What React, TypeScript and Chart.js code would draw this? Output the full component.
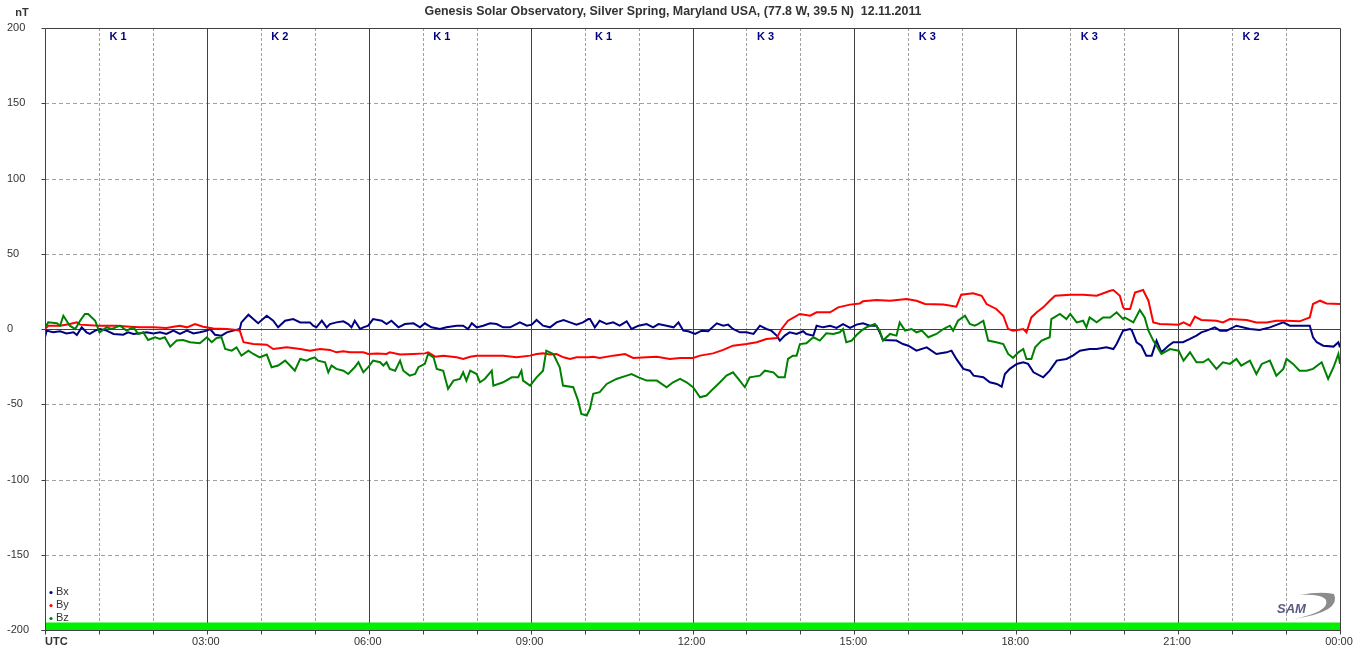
import React, { useEffect, useRef } from "react";
import { Chart, registerables } from "chart.js";

Chart.register(...registerables);

const TITLE = "Genesis Solar Observatory, Silver Spring, Maryland USA, (77.8 W, 39.5 N)  12.11.2011";
const kLabels = ["K 1", "K 2", "K 1", "K 1", "K 3", "K 3", "K 3", "K 2"];
const yTickValues = [200, 150, 100, 50, 0, -50, -100, -150, -200];
const xTickHours = [3, 6, 9, 12, 15, 18, 21, 24];
const xTickLabels = ["03:00", "06:00", "09:00", "12:00", "15:00", "18:00", "21:00", "00:00"];
const legendNames = ["Bx", "By", "Bz"];
const seriesColors = ["#000080", "#ff0000", "#008000"];

// times in hours UTC, values in nT
const bxTimes = [0, 0.03, 0.15, 0.28, 0.4, 0.53, 0.59, 0.68, 0.77, 0.83, 0.93, 1.02, 1.14, 1.27, 1.45, 1.54, 1.64, 1.76, 1.88, 2.01, 2.13, 2.25, 2.38, 2.5, 2.63, 2.75, 2.87, 3.0, 3.06, 3.15, 3.27, 3.37, 3.49, 3.61, 3.64, 3.77, 3.86, 3.95, 4.11, 4.23, 4.32, 4.45, 4.6, 4.73, 4.85, 4.91, 4.97, 5.03, 5.13, 5.22, 5.28, 5.4, 5.53, 5.62, 5.68, 5.74, 5.84, 5.9, 5.99, 6.08, 6.24, 6.33, 6.42, 6.55, 6.67, 6.83, 6.95, 7.04, 7.16, 7.32, 7.44, 7.63, 7.75, 7.84, 7.91, 8.0, 8.12, 8.25, 8.37, 8.49, 8.62, 8.8, 8.93, 9.02, 9.11, 9.23, 9.36, 9.48, 9.61, 9.73, 9.85, 9.97, 10.07, 10.1, 10.19, 10.28, 10.41, 10.53, 10.65, 10.78, 10.87, 11.0, 11.15, 11.27, 11.37, 11.52, 11.65, 11.74, 11.83, 11.92, 12.05, 12.17, 12.29, 12.45, 12.57, 12.66, 12.75, 12.88, 13.0, 13.13, 13.25, 13.37, 13.46, 13.56, 13.62, 13.71, 13.8, 13.93, 14.05, 14.11, 14.24, 14.3, 14.42, 14.55, 14.67, 14.79, 14.92, 15.04, 15.16, 15.29, 15.41, 15.47, 15.53, 15.78, 15.9, 16.0, 16.15, 16.34, 16.52, 16.71, 16.8, 16.89, 17.02, 17.14, 17.21, 17.39, 17.51, 17.64, 17.73, 17.79, 17.88, 18.01, 18.13, 18.22, 18.32, 18.5, 18.62, 18.75, 18.93, 19.05, 19.18, 19.36, 19.49, 19.67, 19.8, 19.86, 19.98, 20.11, 20.14, 20.23, 20.32, 20.41, 20.51, 20.6, 20.69, 20.82, 20.91, 21.09, 21.22, 21.34, 21.43, 21.53, 21.68, 21.78, 21.9, 22.08, 22.33, 22.51, 22.7, 22.95, 23.07, 23.26, 23.44, 23.5, 23.57, 23.69, 23.88, 23.97, 24.0];
const bxValues = [-5.5, -1.1, -2.2, -1.5, -2.9, -2.2, -4.0, 1.1, -2.2, -3.3, -1.1, 0, -1.1, -3.3, -3.8, -2.2, -3.3, -2.9, -2.2, -2.9, -2.2, -3.3, -1.1, -3.3, -1.1, -2.9, -2.2, -1.1, 0, -3.8, -4.4, -2.2, -1.1, 0, 4.4, 9.5, 6.6, 3.8, 8.8, 5.5, 1.1, 5.5, 6.6, 4.4, 4.4, 4.4, 2.2, 1.1, 5.5, 1.1, 3.3, 4.4, 5.1, 3.3, 1.1, 5.5, 0, 1.1, 2.2, 6.6, 5.5, 3.3, 5.5, 1.1, 3.3, 3.8, 1.1, 3.8, 1.1, 0, 1.1, 2.2, 2.2, 0, 3.8, 1.1, 2.2, 3.8, 3.3, 1.1, 1.1, 4.4, 2.2, 2.9, 6.0, 2.2, 1.1, 4.4, 6.0, 4.4, 2.9, 4.4, 6.6, 6.6, 1.1, 5.5, 3.3, 4.4, 2.2, 5.1, 0, 2.2, 3.3, 1.1, 3.3, 2.2, 1.1, 4.4, -1.1, -1.5, -3.3, -1.1, -1.5, 3.8, 2.2, 2.9, 0, -2.2, -2.2, -3.3, 2.2, 0, -1.1, -4.4, -7.7, -4.4, -2.2, -3.3, -1.5, -3.3, -4.4, 2.2, 1.1, 2.2, 0.7, 3.3, 0.7, 2.9, 3.8, 2.2, 2.2, -2.2, -7.3, -7.7, -10, -11.1, -14.4, -12.2, -16.6, -15.5, -14.4, -19.9, -26.5, -27.7, -31, -32, -35.4, -36.5, -38.3, -29.9, -26.5, -23.2, -22.1, -23.2, -28.8, -32.1, -27.7, -21, -19.9, -17.7, -14.4, -13.3, -13.3, -12.2, -13.3, -10, -1.1, 0, -0.7, -8.8, -11.1, -17.7, -17.7, -7.7, -15.5, -11.1, -8.8, -8.8, -6.6, -4.4, -2.2, -1.1, 1.1, -1.1, -1.1, 2.2, 0, -0.7, 1.1, 4.4, 2.2, 2.2, 2.2, -5.5, -8.8, -11.1, -11.7, -8.8, -12.2];

const byTimes = [0, 0.06, 0.28, 0.46, 0.59, 0.65, 0.99, 1.33, 1.58, 1.76, 2.01, 2.25, 2.38, 2.5, 2.63, 2.78, 2.93, 3.12, 3.37, 3.55, 3.61, 3.68, 3.86, 4.11, 4.23, 4.48, 4.73, 4.91, 5.1, 5.28, 5.4, 5.53, 5.65, 5.9, 5.99, 6.15, 6.33, 6.39, 6.58, 6.83, 7.04, 7.1, 7.23, 7.38, 7.63, 7.75, 7.88, 8.0, 8.49, 8.74, 8.99, 9.11, 9.23, 9.36, 9.48, 9.61, 9.73, 9.85, 10.07, 10.16, 10.28, 10.53, 10.75, 10.9, 11.15, 11.34, 11.58, 11.77, 12.01, 12.14, 12.38, 12.57, 12.75, 13.0, 13.19, 13.37, 13.56, 13.65, 13.77, 13.99, 14.18, 14.3, 14.55, 14.7, 14.92, 15.1, 15.16, 15.41, 15.66, 15.97, 16.15, 16.31, 16.65, 16.89, 16.98, 17.2, 17.36, 17.45, 17.63, 17.76, 17.85, 17.94, 18.13, 18.19, 18.28, 18.38, 18.5, 18.62, 18.72, 19.0, 19.24, 19.49, 19.74, 19.8, 19.92, 19.98, 20.01, 20.11, 20.2, 20.35, 20.45, 20.54, 20.66, 21.01, 21.1, 21.22, 21.31, 21.43, 21.71, 21.83, 21.96, 22.27, 22.45, 22.64, 22.82, 23.01, 23.25, 23.44, 23.5, 23.63, 23.75, 24.0];
const byValues = [0, 2.2, 2.2, 3.3, 4.4, 2.9, 2.2, 2.2, 1.5, 1.1, 1.1, 0.7, 1.5, 2.2, 1.1, 3.3, 1.5, 0.4, 0, -0.7, -1.1, -8.8, -10, -10.4, -13.3, -12.2, -13.3, -14.4, -13.3, -13.9, -15.5, -14.8, -15.5, -15.5, -16.6, -16.2, -16.6, -15.5, -17, -16.6, -16.2, -15.5, -18.4, -17.7, -18.8, -19.9, -18.4, -17.7, -17.7, -18.8, -17.7, -16.6, -16.2, -17, -16.6, -18.8, -19.9, -18.8, -18.8, -18.4, -19.2, -17.7, -16.6, -19.2, -18.8, -18.4, -19.9, -19.2, -19.2, -17.7, -16.2, -13.9, -11.1, -10, -8.8, -6.6, -6, 0, 5.5, 10, 8.8, 11.1, 11.1, 14.4, 16.2, 17, 18.4, 19.2, 18.8, 19.9, 18.8, 16.6, 16.2, 14.8, 22.8, 23.7, 22.1, 16.6, 13.3, 8.8, 0, -1.1, 0, -2.2, 7.7, 11.1, 14.4, 18.8, 22.1, 22.8, 22.8, 22.1, 25.4, 25.9, 22.1, 14.4, 13.3, 13.3, 24.3, 25.9, 18.8, 4.4, 3.3, 2.9, 4.4, 2.2, 8.2, 6, 5.5, 4.4, 6.6, 6, 4.4, 4.4, 5.5, 5.5, 5.1, 7.7, 16.6, 18.8, 17, 16.6];

const bzTimes = [0, 0.06, 0.22, 0.28, 0.34, 0.4, 0.46, 0.56, 0.65, 0.74, 0.8, 0.93, 1.01, 1.14, 1.24, 1.39, 1.51, 1.64, 1.73, 1.82, 1.91, 2.04, 2.13, 2.22, 2.32, 2.44, 2.56, 2.69, 2.87, 3.0, 3.09, 3.18, 3.27, 3.34, 3.46, 3.55, 3.64, 3.77, 3.86, 3.98, 4.11, 4.2, 4.32, 4.45, 4.54, 4.63, 4.73, 4.85, 4.91, 5.0, 5.06, 5.19, 5.25, 5.31, 5.4, 5.53, 5.62, 5.74, 5.81, 5.9, 5.99, 6.08, 6.21, 6.27, 6.33, 6.39, 6.49, 6.58, 6.64, 6.76, 6.86, 6.92, 7.04, 7.1, 7.2, 7.26, 7.38, 7.47, 7.57, 7.69, 7.75, 7.81, 7.88, 8.0, 8.06, 8.15, 8.28, 8.31, 8.49, 8.65, 8.77, 8.83, 8.86, 8.99, 9.11, 9.23, 9.29, 9.42, 9.54, 9.6, 9.79, 9.88, 9.94, 10.04, 10.1, 10.16, 10.28, 10.41, 10.59, 10.78, 10.87, 11.0, 11.15, 11.34, 11.52, 11.64, 11.77, 11.89, 12.01, 12.14, 12.26, 12.38, 12.51, 12.63, 12.75, 12.85, 12.97, 13.06, 13.25, 13.34, 13.5, 13.59, 13.71, 13.77, 13.86, 13.93, 13.99, 14.11, 14.24, 14.36, 14.48, 14.61, 14.73, 14.79, 14.85, 14.95, 15.04, 15.13, 15.22, 15.38, 15.47, 15.53, 15.66, 15.78, 15.84, 15.94, 16.06, 16.15, 16.25, 16.37, 16.52, 16.65, 16.77, 16.83, 16.92, 17.05, 17.14, 17.23, 17.29, 17.39, 17.48, 17.63, 17.76, 17.85, 17.94, 18.04, 18.13, 18.19, 18.28, 18.35, 18.47, 18.62, 18.65, 18.81, 18.93, 19.0, 19.12, 19.24, 19.3, 19.36, 19.49, 19.61, 19.74, 19.86, 19.98, 20.01, 20.17, 20.29, 20.38, 20.45, 20.54, 20.69, 20.85, 21.01, 21.1, 21.22, 21.34, 21.46, 21.56, 21.71, 21.83, 21.96, 22.08, 22.17, 22.33, 22.45, 22.55, 22.7, 22.82, 22.95, 23.01, 23.13, 23.25, 23.38, 23.5, 23.66, 23.78, 23.88, 23.97, 24.0];
const bzValues = [1.1, 4.4, 3.8, 2.2, 8.8, 5.5, 2.2, 0, 5.5, 10, 10, 5.5, -2.2, 1.1, 0, 2.2, -1.1, 1.1, -3.3, -2.2, -7.3, -5.5, -6.6, -5.5, -11.7, -7.7, -7.3, -8.8, -9.5, -5.5, -8.8, -6, -5.5, -13.3, -14.4, -12.2, -17.7, -14.4, -16.6, -18.8, -17, -25.4, -24.3, -21, -24.3, -27.7, -19.9, -21, -19.9, -18.8, -21, -22.1, -28.8, -24.3, -26.5, -27.7, -29.9, -25.4, -22.1, -28.8, -25.4, -21, -22.1, -24.3, -22.1, -26.5, -27.7, -21, -27.7, -31, -29.9, -25.4, -23.2, -16.6, -18.8, -26.5, -27.7, -39.8, -34.3, -33.2, -28.8, -34.3, -27.7, -29.9, -35.4, -33.2, -27.7, -37.6, -35.4, -32.1, -32.1, -27.7, -34.3, -37.6, -32.1, -27.7, -14.4, -16.6, -25.4, -37.6, -38.7, -47.6, -56.4, -57.5, -53, -43.1, -42, -36.5, -33.2, -31, -29.9, -32.1, -34.3, -34.3, -38.7, -35.4, -33.2, -35.4, -38.7, -45.4, -44.2, -39.8, -35.4, -31, -28.8, -33.2, -38.7, -32.1, -31, -27.7, -28.8, -32.1, -32.1, -19.9, -17.7, -17.7, -10, -9.5, -5.5, -7.7, -2.9, -3.3, -2.2, 0, -8.8, -7.7, -4, -1.1, 1.1, 3.3, -1.1, -7.7, -3.3, -4.4, 4.4, -1.1, 0, -2.2, -1.1, -5.5, -3.3, 0, 2.2, -1.1, 5.5, 8.8, 3.3, 2.2, 3.3, 5.5, -7.7, -8.8, -10, -16.6, -19.2, -15.5, -13.3, -19.9, -19.9, -12.2, -7.7, -5.5, 6.6, 10, 6.6, 10, 4.4, 5.5, 1.1, 7.7, 4.4, 7.7, 7.7, 11.1, 6.6, 7.7, 4.4, 12.6, 7.7, -1.1, -7.7, -16.6, -13.3, -14.4, -21, -15.5, -22.1, -22.1, -19.9, -26.5, -22.1, -23.2, -19.9, -24.3, -21, -29.9, -23.2, -21, -31, -26.5, -19.9, -23.2, -27.7, -27.7, -26.5, -22.1, -33.2, -25.4, -16.6, -23.2];

const bandTimes = [0, 24];
const bandValues = [-195, -195];

const FONT = '"Liberation Sans", Arial, sans-serif';

const toPoints = (ts: number[], vs: number[]) => ts.map((t, i) => ({ x: t, y: vs[i] }));

const decor = {
  id: "decor",
  beforeDraw(chart: any) {
    const { ctx, width, height } = chart;
    ctx.save();
    ctx.fillStyle = "#ffffff";
    ctx.fillRect(0, 0, width, height);
    ctx.restore();
  },
  beforeDatasetsDraw(chart: any) {
    const { ctx, chartArea, scales } = chart;
    const { left, right, top, bottom } = chartArea;
    const x = scales.x;
    const y = scales.y;
    ctx.save();
    ctx.lineWidth = 1;
    ctx.strokeStyle = "#a0a0a0";
    ctx.setLineDash([4, 3]);
    for (const v of yTickValues) {
      if (v === 0 || v === 200 || v === -200) continue;
      const py = Math.round(y.getPixelForValue(v)) + 0.5;
      ctx.beginPath();
      ctx.moveTo(left, py);
      ctx.lineTo(right, py);
      ctx.stroke();
    }
    ctx.setLineDash([3, 2]);
    for (let h = 1; h < 24; h++) {
      if (h % 3 === 0) continue;
      const px = Math.round(x.getPixelForValue(h)) + 0.5;
      ctx.beginPath();
      ctx.moveTo(px, top);
      ctx.lineTo(px, bottom);
      ctx.stroke();
    }
    ctx.setLineDash([]);
    ctx.strokeStyle = "#404040";
    for (let h = 3; h < 24; h += 3) {
      const px = Math.round(x.getPixelForValue(h)) + 0.5;
      ctx.beginPath();
      ctx.moveTo(px, top);
      ctx.lineTo(px, bottom);
      ctx.stroke();
    }
    const zy = Math.round(y.getPixelForValue(0)) + 0.5;
    ctx.beginPath();
    ctx.moveTo(left, zy);
    ctx.lineTo(right, zy);
    ctx.stroke();
    ctx.restore();
  },
  afterDatasetsDraw(chart: any) {
    const { ctx, chartArea, scales } = chart;
    const { left, top, bottom } = chartArea;
    const x = scales.x;
    const y = scales.y;
    ctx.save();
    ctx.lineWidth = 1;
    ctx.strokeStyle = "#404040";
    const l = Math.round(left) + 0.5;
    const r = Math.round(x.getPixelForValue(24)) + 0.5;
    const t = Math.round(top) + 0.5;
    const b = Math.round(bottom) + 0.5;
    ctx.beginPath();
    ctx.moveTo(l, t);
    ctx.lineTo(r, t);
    ctx.moveTo(l, t);
    ctx.lineTo(l, b + 4);
    ctx.moveTo(l - 4, b);
    ctx.lineTo(r, b);
    ctx.moveTo(r, t);
    ctx.lineTo(r, b + 4);
    ctx.stroke();
    for (const v of yTickValues) {
      const py = Math.round(y.getPixelForValue(v)) + 0.5;
      ctx.beginPath();
      ctx.moveTo(l - 4, py);
      ctx.lineTo(l, py);
      ctx.stroke();
    }
    for (let h = 1; h < 24; h++) {
      const px = Math.round(x.getPixelForValue(h)) + 0.5;
      ctx.beginPath();
      ctx.moveTo(px, b);
      ctx.lineTo(px, b + 4);
      ctx.stroke();
    }
    ctx.fillStyle = "#333333";
    ctx.font = `11px ${FONT}`;
    ctx.textAlign = "left";
    ctx.textBaseline = "middle";
    for (const v of yTickValues) {
      ctx.fillText(String(v), 7, y.getPixelForValue(v));
    }
    ctx.textAlign = "center";
    for (let i = 0; i < xTickHours.length; i++) {
      ctx.fillText(xTickLabels[i], x.getPixelForValue(xTickHours[i]) - 1, 642);
    }
    ctx.font = `bold 11px ${FONT}`;
    ctx.textAlign = "left";
    ctx.fillText("UTC", left, 642);
    ctx.textAlign = "center";
    ctx.fillText("nT", 22, 13);
    ctx.font = `bold 12.4px ${FONT}`;
    ctx.fillText(TITLE, 673, 12);
    ctx.fillStyle = "#000080";
    ctx.font = `bold 11px ${FONT}`;
    for (let i = 0; i < kLabels.length; i++) {
      ctx.fillText(kLabels[i], x.getPixelForValue(i * 3 + 1.5) - 8, 37);
    }
    ctx.font = `11px ${FONT}`;
    ctx.textAlign = "left";
    for (let i = 0; i < legendNames.length; i++) {
      const ly = 592 + i * 13;
      ctx.fillStyle = seriesColors[i];
      ctx.beginPath();
      ctx.arc(51, ly + 0.5, 1.6, 0, Math.PI * 2);
      ctx.fill();
      ctx.fillStyle = "#333333";
      ctx.fillText(legendNames[i], 56, ly);
    }
    // SAM logo
    ctx.fillStyle = "#8c8c8c";
    ctx.beginPath();
    ctx.moveTo(1293, 619);
    ctx.quadraticCurveTo(1342, 612, 1334, 594);
    ctx.quadraticCurveTo(1320, 591, 1300, 595);
    ctx.quadraticCurveTo(1322, 594, 1326, 600);
    ctx.quadraticCurveTo(1330, 612, 1293, 619);
    ctx.closePath();
    ctx.fill();
    ctx.font = `italic bold 13px ${FONT}`;
    ctx.fillStyle = "#5a5a86";
    ctx.textBaseline = "alphabetic";
    ctx.fillText("SAM", 1277, 613);
    ctx.restore();
  },
};

export default function App() {
  const canvasRef = useRef<HTMLCanvasElement | null>(null);

  useEffect(() => {
    const canvas = canvasRef.current;
    if (!canvas) return;
    const lineStyle = { borderWidth: 2, pointRadius: 0, fill: false, tension: 0 };
    const chart = new Chart(canvas, {
      type: "line",
      data: {
        datasets: [
          {
            label: "band",
            data: toPoints(bandTimes, bandValues),
            borderWidth: 0,
            borderColor: "#00f000",
            backgroundColor: "#00f000",
            fill: "start",
            pointRadius: 0,
            order: 10,
          },
          { label: "Bx", data: toPoints(bxTimes, bxValues), borderColor: seriesColors[0], ...lineStyle, order: 3 },
          { label: "By", data: toPoints(byTimes, byValues), borderColor: seriesColors[1], ...lineStyle, order: 2 },
          { label: "Bz", data: toPoints(bzTimes, bzValues), borderColor: seriesColors[2], ...lineStyle, order: 1 },
        ],
      },
      options: {
        responsive: false,
        animation: false,
        events: [],
        layout: { padding: { left: 45, right: 20, top: 28, bottom: 27 } },
        plugins: {
          legend: { display: false },
          tooltip: { enabled: false },
          title: { display: false },
        },
        scales: {
          x: { type: "linear", min: 0, max: 24, display: false },
          y: { type: "linear", min: -200, max: 200, display: false },
        },
      },
      plugins: [decor],
    });
    return () => chart.destroy();
  }, []);

  return (
    <div style={{ position: "fixed", left: 0, top: 0, width: 1360, height: 657, background: "#fff" }}>
      <canvas ref={canvasRef} width={1360} height={657} style={{ display: "block" }} />
    </div>
  );
}
